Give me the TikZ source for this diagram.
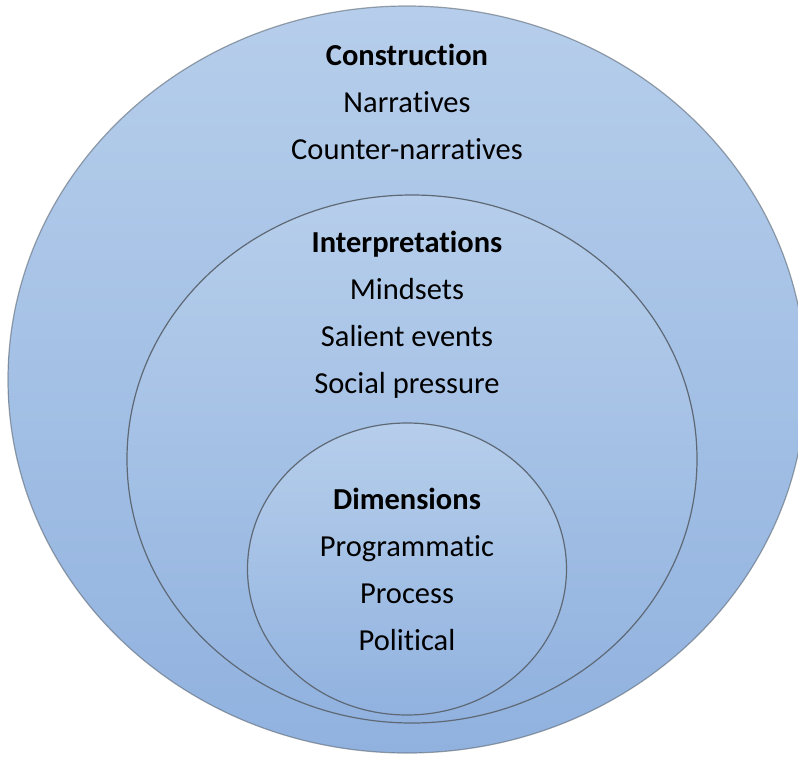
\documentclass[tikz,border=0pt]{standalone}
\usepackage{fontspec}
\setmainfont{Carlito}[Ligatures=NoCommon]
\usepackage{xcolor}
\usepackage{tikz}
\usetikzlibrary{positioning}
\definecolor{skytop}{HTML}{B6CEEB}
\definecolor{skybottom}{HTML}{91B2DF}
\definecolor{rimgrey}{HTML}{5E6975}

\tikzset{
  ring/.style={draw=rimgrey, line width=1.2pt, top color=skytop, bottom color=skybottom},
  ringtext/.style={align=center, text=black, font=\fontsize{30.5}{47}\selectfont}
}

\begin{document}
\begin{tikzpicture}[x=1pt, y=-1pt]
  % Page frame
  \useasboundingbox (0,0) rectangle (798,756);
  \fill[white] (0,0) rectangle (798,756);

  % Three nested ellipses, outer to inner
  \shade[ring, draw opacity=0.6] (407,379.5) ellipse [x radius=399, y radius=373.5];
  \shade[ring] (412,459) ellipse [x radius=285, y radius=264];
  \shade[ring] (407,569) ellipse [x radius=159.5, y radius=146];

  % Labels of each level
  \node[ringtext] (construction) at (407,101.5) {\textbf{Construction}\\Narratives\\Counter-narratives};
  \node[ringtext] (interpretations) at (407,315) {\textbf{Interpretations}\\Mindsets\\Salient events\\Social pressure};
  \node[ringtext] (dimensions) at (407,569) {\textbf{Dimensions}\\Programmatic\\Process\\Political};
\end{tikzpicture}
\end{document}
